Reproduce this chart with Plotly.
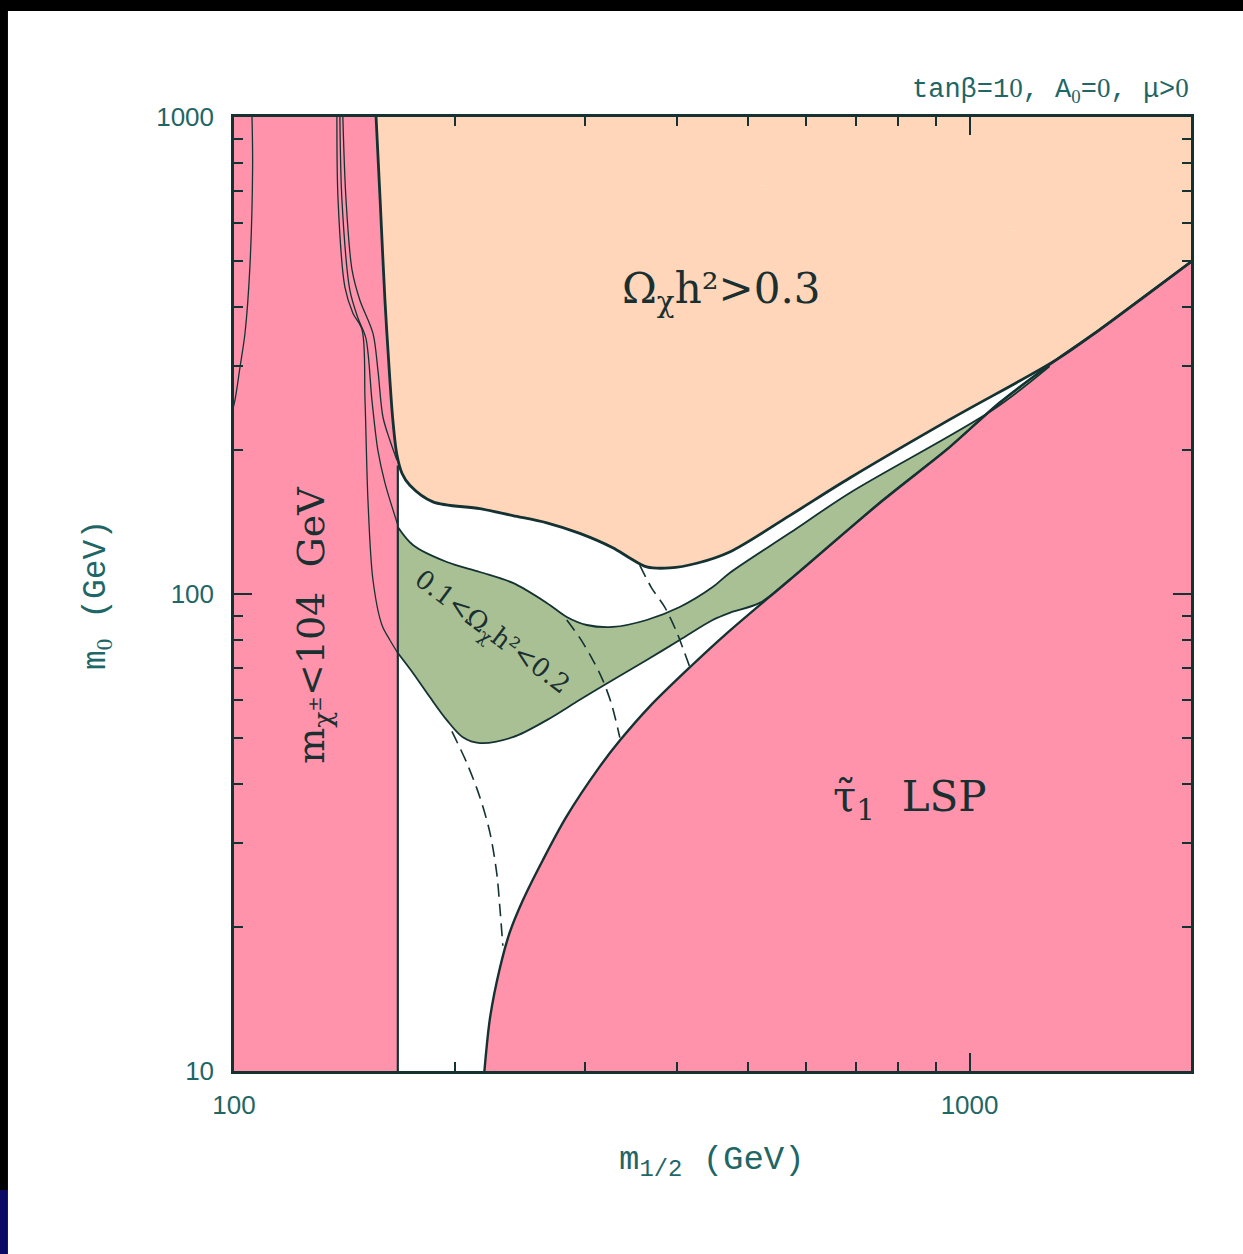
import numpy as np
import plotly.graph_objects as go

# ---------------- data (m_1/2 in GeV, m_0 in GeV) ----------------
x_range_vals = [100, 2000]
y_range_vals = [10, 1000]

x_tick_vals = [100, 1000]
x_tick_text = ["100", "1000"]
y_tick_vals = [10, 100, 1000]
y_tick_text = ["10", "100", "1000"]
x_minor_vals = [200, 300, 400, 500, 600, 700, 800, 900]
y_minor_vals = [20, 30, 40, 50, 60, 70, 80, 90, 200, 300, 400, 500, 600, 700, 800, 900]

# chargino mass limit (m_chi+- < 104 GeV)
chargino_mhalf = 167
chargino_line_top_m0 = 186

# stau LSP boundary
stau_mhalf = [219, 223, 230, 237, 247, 263, 283, 314, 335, 367, 417, 468, 569, 762, 939, 1099, 1313, 1502, 1756, 2000]
stau_m0 = [10, 13.0, 16.5, 19.5, 22.8, 27.7, 34.1, 43.4, 49.4, 58.0, 70.3, 82.8, 107, 157, 203, 252, 310, 358, 428, 497]

# Omega h^2 = 0.3 contour
om03_mhalf = [156, 158, 160.4, 162.9, 164.4, 166.5, 169.2, 173.4, 186.4, 215.9, 239.4, 266.2, 295.2,
              327.3, 345.1, 364.0, 391.2, 425.7, 471.9, 569.4, 687.1, 939.3, 1313]
om03_m0 = [1000, 670, 413, 281, 232, 196, 179, 169, 156, 151, 146, 141, 134,
           125, 119, 114, 113.4, 116, 122.5, 146, 175, 232, 310]

# 0.1 < Omega h^2 < 0.2 band
green_up_mhalf = [167, 175.1, 194.7, 215.9, 239.4, 266.2, 283.4, 301.7, 327.3, 364.0, 403.6, 447.5,
                  471.9, 569.4, 687.1, 1074.7, 1284.5]
green_up_m0 = [138.2, 126.7, 116.7, 111.2, 105.5, 95.8, 89.5, 86.1, 85.3, 88.2, 93.9, 103.4,
               110.7, 134.2, 162.8, 243.0, 300]
green_lo_mhalf = [167, 175.1, 184.6, 194.7, 204.7, 215.9, 239.4, 266.2, 295.2, 327.3, 364.0, 403.6,
                  447.5, 471.9, 518.4, 569.4, 761.8, 939.3, 1098.5, 1284.5]
green_lo_m0 = [75.2, 68.3, 60.8, 54.4, 50.1, 48.7, 50.1, 54.4, 60.0, 66.0, 72.7, 80.1,
               88.2, 91.3, 95.8, 107.0, 157.4, 203.3, 251.5, 302]

# dashed contours
dash1_mhalf = [197.8, 207.3, 215.9, 222.8, 227.6, 229.8, 232.0]
dash1_m0 = [51.5, 44.2, 37.5, 31.6, 26.0, 22.1, 18.3]
dash2_mhalf = [283.4, 295.2, 307.5, 317.2, 326.3, 334.6]
dash2_m0 = [88.2, 80.9, 72.7, 66.0, 58.5, 50.0]
dash3_mhalf = [356.1, 369.7, 385.1, 398.6, 407.5, 416.5]
dash3_m0 = [115, 102.9, 93.9, 84.1, 77.1, 70.3]

# thin contour lines inside the chargino-excluded region
thinA_mhalf = [138.0, 138.5, 141.5, 145.1, 149.3, 150.7, 152.1, 154.5, 158.9, 162.9, 167.0]
thinA_m0 = [1000, 670, 440, 388, 358, 255, 157, 107, 86.1, 80.1, 75.2]
thinB_mhalf = [139.3, 140.2, 143.7, 147.4, 151.1, 154.0, 156.9, 160.4, 167.0]
thinB_m0 = [1000, 670, 434, 379, 344, 255, 200, 171, 139.5]
thinC_mhalf = [140.6, 142.0, 144.7, 148.3, 154.5, 156.9, 159.4, 162.9, 166.5]
thinC_m0 = [1000, 670, 478, 413, 352, 295, 235, 210, 191]
left_mhalf = [105.8, 106.0, 105.1, 103.5, 101.9, 100.3, 99.0]
left_m0 = [1000, 786, 485, 352, 299, 255, 235]

# ---------------- styles ----------------
PINK = "#FF93AC"
PEACH = "#FFD6BA"
GREEN = "#A9C095"
LINE = "#143232"
TXT_IN = "#1a3030"
TXT_OUT = "#1f6666"
SERIF = "DejaVu Serif"
MONO = "Liberation Mono"
Z = '<span style="font-family:Liberation Serif">0</span>'  # plain (undotted) zero

fig = go.Figure()


def add(xs, ys, width=0.0, color=LINE, dash="solid", fill="none", fillcolor=None, shape="spline"):
    kw = dict(x=xs, y=ys, mode="lines", hoverinfo="skip", showlegend=False,
              line=dict(width=width, color=color, dash=dash, shape=shape, smoothing=0.9))
    if fill != "none":
        kw["fill"] = fill
        kw["fillcolor"] = fillcolor
    fig.add_trace(go.Scatter(**kw))


xmin, xmax = x_range_vals
ymin, ymax = y_range_vals

# stau LSP region: helper edge path + smooth boundary filled to it
add([stau_mhalf[0], xmax, xmax], [ymin, ymin, stau_m0[-1]], color=PINK, shape="linear")
add(stau_mhalf, stau_m0, color=PINK, fill="tonext", fillcolor=PINK)

# preferred band (0.1 < Omega h^2 < 0.2)
add(green_up_mhalf + green_lo_mhalf[::-1], green_up_m0 + green_lo_m0[::-1],
    color=GREEN, fill="toself", fillcolor=GREEN)

# chargino-excluded region
add([xmin, chargino_mhalf, chargino_mhalf, xmin, xmin], [ymin, ymin, ymax, ymax, ymin],
    color=PINK, fill="toself", fillcolor=PINK, shape="linear")

# overdense region
tail_x = [x for x in stau_mhalf if x > om03_mhalf[-1]]
tail_y = [y for x, y in zip(stau_mhalf, stau_m0) if x > om03_mhalf[-1]]
om_x = om03_mhalf + tail_x
om_y = om03_m0 + tail_y
add([om_x[0], xmax, xmax], [ymax, ymax, om_y[-1]], color=PEACH, shape="linear")
add(om_x, om_y, color=PEACH, fill="tonext", fillcolor=PEACH)

# band edges
add(green_up_mhalf, green_up_m0, width=1.8)
add(green_lo_mhalf, green_lo_m0, width=1.8)

# thin lines
for tx, ty in [(thinA_mhalf, thinA_m0), (thinB_mhalf, thinB_m0), (thinC_mhalf, thinC_m0),
               (left_mhalf, left_m0)]:
    add(tx, ty, width=1.3)

# dashed lines
for dx, dy in [(dash1_mhalf, dash1_m0), (dash2_mhalf, dash2_m0), (dash3_mhalf, dash3_m0)]:
    add(dx, dy, width=1.6, dash="13px,7px")

# boundaries
add([chargino_mhalf, chargino_mhalf], [ymin, chargino_line_top_m0], width=2.2, shape="linear")
add(om_x, om_y, width=2.8)
add(stau_mhalf, stau_m0, width=2.4)

# ---------------- annotations ----------------
def ann(x, y, text, size, angle=0, font=SERIF, color=TXT_IN):
    fig.add_annotation(x=np.log10(x), y=np.log10(y), xref="x", yref="y", text=text, showarrow=False,
                       textangle=angle, xanchor="center", yanchor="middle",
                       font=dict(family=font, size=size, color=color))

ann(460, 430, "Ω<sub>χ</sub>h²&gt;0.3", 42)
ann(830, 37.0, "τ\u0303<sub>1</sub>  LSP", 42)
ann(128, 86.1, "m<sub>χ<sup>±</sup></sub>&lt;104  GeV", 38, angle=-90)
ann(224, 83.2, "0.1&lt;Ω<sub>χ</sub>h²&lt;0.2", 26, angle=37)

fig.add_annotation(x=1.0, y=1.0283, xref="paper", yref="paper", xanchor="right", yanchor="middle",
                   text=f"tanβ=1{Z}, A<sub>{Z}</sub>={Z}, μ&gt;{Z}", showarrow=False,
                   font=dict(family=MONO, size=27, color=TXT_OUT))
fig.add_annotation(x=0.4995, y=-0.0954, xref="paper", yref="paper", xanchor="center", yanchor="middle",
                   text="m<sub>1/2</sub> (GeV)", showarrow=False,
                   font=dict(family=MONO, size=34, color=TXT_OUT))
fig.add_annotation(x=-0.1421, y=0.499, xref="paper", yref="paper", xanchor="center", yanchor="middle",
                   text=f"m<sub>{Z}</sub> (GeV)", showarrow=False, textangle=-90,
                   font=dict(family=MONO, size=33, color=TXT_OUT))

# frame decorations (black border / corner)
fig.add_shape(type="rect", xref="paper", yref="paper", x0=-0.26, x1=1.07, y0=1.1111, y1=1.14,
              fillcolor="black", line=dict(width=0))
fig.add_shape(type="rect", xref="paper", yref="paper", x0=-0.26, x1=-0.2362, y0=-0.1247, y1=1.14,
              fillcolor="black", line=dict(width=0))
fig.add_shape(type="rect", xref="paper", yref="paper", x0=-0.26, x1=-0.2362, y0=-0.21, y1=-0.1247,
              fillcolor="#0b0b66", line=dict(width=0))

axis_common = dict(type="log", showgrid=False, zeroline=False, showline=True, linewidth=2.5,
                   linecolor=LINE, ticks="inside", ticklen=18, tickwidth=2.2, tickcolor=LINE,
                   mirror="allticks", tickfont=dict(family="Liberation Sans", size=26, color=TXT_OUT))

fig.update_xaxes(range=[np.log10(xmin), np.log10(xmax)],
                 tickmode="array", tickvals=x_tick_vals, ticktext=x_tick_text,
                 minor=dict(tickmode="array", tickvals=x_minor_vals, ticks="inside", ticklen=9,
                            tickwidth=2, tickcolor=LINE),
                 ticklabelstandoff=9, **axis_common)
fig.update_yaxes(range=[np.log10(ymin), np.log10(ymax)],
                 tickmode="array", tickvals=y_tick_vals, ticktext=y_tick_text,
                 minor=dict(tickmode="array", tickvals=y_minor_vals, ticks="inside", ticklen=9,
                            tickwidth=2, tickcolor=LINE),
                 ticklabelstandoff=12, **axis_common)

fig.update_layout(width=1243, height=1254, margin=dict(l=234, r=52, t=117, b=183),
                  paper_bgcolor="white", plot_bgcolor="white", showlegend=False)

fig.write_html("out.html")
